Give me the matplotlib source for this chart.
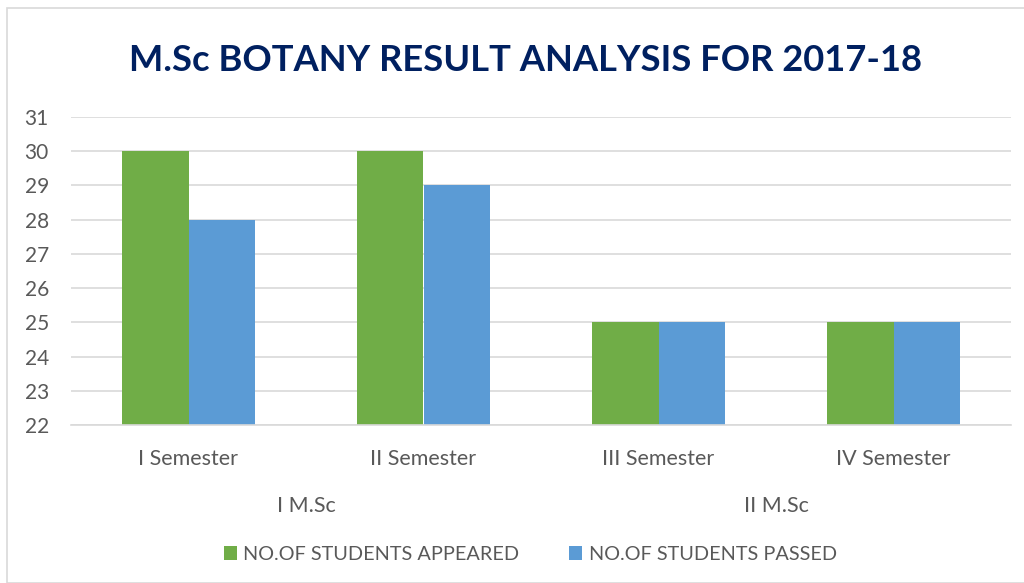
import numpy as np
import matplotlib.pyplot as plt
import matplotlib
from matplotlib.patches import Rectangle
import matplotlib.transforms as mtransforms

matplotlib.rcParams['font.family'] = ['Lato', 'DejaVu Sans']

semesters = ["I Semester", "II Semester", "III Semester", "IV Semester"]
groups = ["I M.Sc", "II M.Sc"]
group_members = [(0, 1), (2, 3)]
appeared = [30, 30, 25, 25]
passed = [28, 29, 25, 25]
series_names = ["NO.OF STUDENTS APPEARED", "NO.OF STUDENTS PASSED"]

green = "#70AD47"
blue = "#5B9BD5"
txt = "#595959"
grid = "#D9D9D9"

fig = plt.figure(figsize=(10.24, 5.83), dpi=100)
ax = fig.add_axes([71 / 1024, 1 - 425 / 583, 940 / 1024, 308 / 583])

x = np.arange(len(semesters))
w = 0.285
ax.bar(x - w / 2, appeared, w, color=green, label=series_names[0], zorder=3)
ax.bar(x + w / 2, passed, w, color=blue, label=series_names[1], zorder=3)

ax.set_xlim(-0.5, len(semesters) - 0.5)
ax.set_ylim(22, 31)
ax.set_yticks(range(22, 32))
ax.yaxis.grid(True, color=grid, linewidth=1.2, zorder=0)
for s in ax.spines.values():
    s.set_visible(False)
ax.axhline(22, color=grid, linewidth=1.2, zorder=4, clip_on=False)
ax.tick_params(axis='both', length=0, colors=txt)
ax.tick_params(axis='y', pad=16, labelsize=15)
ax.tick_params(axis='x', pad=17, labelsize=15.5)
ax.set_xticks(x)
ax.set_xticklabels(semesters)

trans = mtransforms.blended_transform_factory(ax.transData, ax.transAxes)
for g, (a, b) in zip(groups, group_members):
    ax.text((a + b) / 2, -0.262, g, transform=trans, ha='center', va='center',
            fontsize=15.5, color=txt)

fig.text(0.513, 0.897, "M.Sc BOTANY RESULT ANALYSIS FOR 2017-18", ha='center',
         va='center', fontsize=26.2, fontweight='bold', color="#002060")

leg = fig.legend(loc='center', bbox_to_anchor=(0.518, 0.049), ncol=2, frameon=False,
                 fontsize=14.3, handlelength=0.65, handleheight=0.65, handletextpad=0.35,
                 columnspacing=2.5)
for t in leg.get_texts():
    t.set_color(txt)

fig.patches.append(Rectangle((7 / 1024, 0.0), 1, 1 - 8 / 583, transform=fig.transFigure,
                             fill=False, edgecolor=grid, linewidth=1.2))

fig.savefig("out.png", dpi=100)
